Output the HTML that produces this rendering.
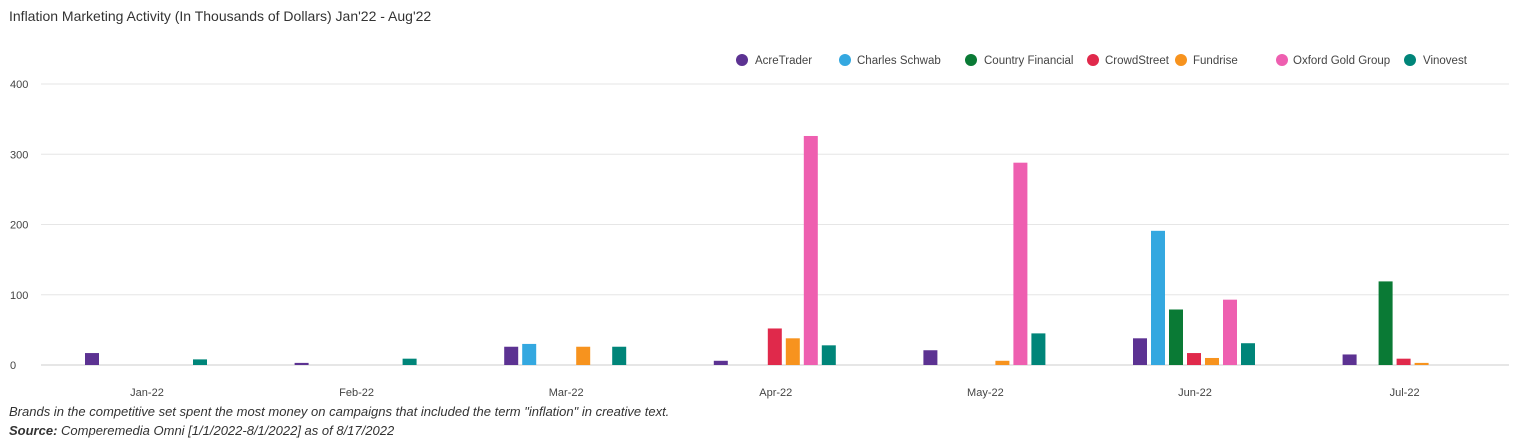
<!DOCTYPE html>
<html><head><meta charset="utf-8"><style>
body{margin:0;background:#fff;width:1518px;height:438px;overflow:hidden;font-family:"Liberation Sans",sans-serif}
</style></head><body>
<svg id="s" width="1518" height="438" xmlns="http://www.w3.org/2000/svg" font-family="Liberation Sans, sans-serif">
<text x="9" y="21" font-size="14" fill="#333">Inflation Marketing Activity (In Thousands of Dollars) Jan'22 - Aug'22</text>
<g font-size="11.5" fill="#444">
<circle cx="742" cy="60" r="6" fill="#5c3292"/><text x="755" y="64">AcreTrader</text>
<circle cx="845" cy="60" r="6" fill="#34a8e0"/><text x="857" y="64">Charles Schwab</text>
<circle cx="971" cy="60" r="6" fill="#0a7a35"/><text x="984" y="64">Country Financial</text>
<circle cx="1093" cy="60" r="6" fill="#e0294b"/><text x="1105" y="64">CrowdStreet</text>
<circle cx="1181" cy="60" r="6" fill="#f7931e"/><text x="1193" y="64">Fundrise</text>
<circle cx="1282" cy="60" r="6" fill="#ee5fb0"/><text x="1293" y="64">Oxford Gold Group</text>
<circle cx="1410" cy="60" r="6" fill="#008579"/><text x="1423" y="64">Vinovest</text>
</g>
<g id="grid"></g>
<g id="bars"></g>
<text x="9" y="416" font-size="13" font-style="italic" fill="#333">Brands in the competitive set spent the most money on campaigns that included the term "inflation" in creative text.</text>
<text x="9" y="435" font-size="13" font-style="italic" fill="#333"><tspan font-weight="bold">Source:</tspan> Comperemedia Omni [1/1/2022-8/1/2022] as of 8/17/2022</text>
</svg>
<script>
var ns="http://www.w3.org/2000/svg",g=document.getElementById('grid'),b=document.getElementById('bars');
function el(p,t,a,txt){var e=document.createElementNS(ns,t);for(var k in a)e.setAttribute(k,a[k]);if(txt!=null)e.textContent=txt;p.appendChild(e);return e;}
var y0=365,sc=0.7025;
for(var v=0;v<=400;v+=100){var y=y0-v*sc;el(g,'line',{x1:41,x2:1509,y1:y,y2:y,stroke:v==0?'#ccc':'#e6e6e6','stroke-width':1});el(g,'text',{x:10,y:y+4,'font-size':11,fill:'#444'},v);}
var cols=['#5c3292','#34a8e0','#0a7a35','#e0294b','#f7931e','#ee5fb0','#008579'];
var months=['Jan-22','Feb-22','Mar-22','Apr-22','May-22','Jun-22','Jul-22'];
var d=[[17,0,0,0,0,0,8],[3,0,0,0,0,0,9],[26,30,0,0,26,0,26],[6,0,0,52,38,326,28],[21,0,0,0,6,288,45],[38,191,79,17,10,93,31],[15,0,119,9,3,0,0]];
for(var m=0;m<7;m++){var c=147+209.6*m;el(g,'text',{x:c,y:396,'font-size':11,fill:'#444','text-anchor':'middle'},months[m]);
for(var i=0;i<7;i++){var v=d[m][i];if(!v)continue;var h=v*sc;el(b,'rect',{x:c-62+18*i,y:y0-h,width:14,height:h,fill:cols[i]});}}
</script>
</body></html>
